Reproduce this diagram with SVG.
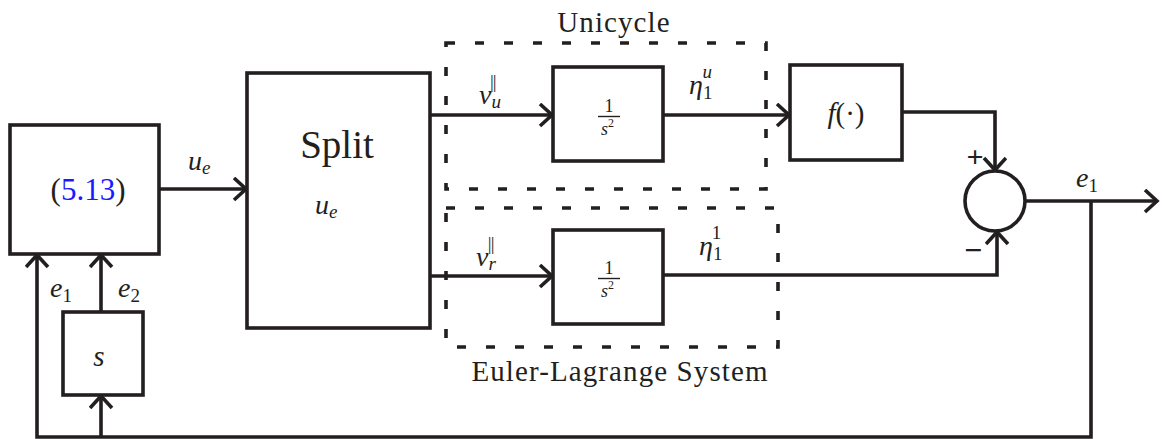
<svg xmlns="http://www.w3.org/2000/svg" width="1162" height="439" viewBox="0 0 1162 439" font-family="'Liberation Serif', 'DejaVu Serif', serif">
  <style>
    .blk { fill: #fff; stroke: #231f20; stroke-width: 3.6; }
    .ln { fill: none; stroke: #231f20; stroke-width: 3.6; }
    .dash { fill: none; stroke: #231f20; stroke-width: 3.6; stroke-dasharray: 9 20; }
    text { fill: #231f20; }
    .it { font-style: italic; }
    .si { font-size: 19px; font-style: italic; }
    .sn { font-size: 19px; font-style: normal; }
    .cap { font-size: 29px; letter-spacing: 1.1px; }
    .bar { stroke: #231f20; stroke-width: 1.4; }
    .frac { font-size: 18px; }
  </style>
  <defs>
    <marker id="head" markerUnits="userSpaceOnUse" markerWidth="30" markerHeight="30" refX="14" refY="12" orient="auto">
      <path d="M2,1 L14,12 L2,23" fill="none" stroke="#231f20" stroke-width="3.6"/>
    </marker>
  </defs>

  <!-- subsystem frames -->
  <g id="unicycle-frame">
    <rect class="dash" x="446" y="43" width="320" height="146"/>
    <text class="cap" x="614" y="32" text-anchor="middle">Unicycle</text>
  </g>
  <g id="el-frame">
    <rect class="dash" x="446" y="208" width="332" height="139"/>
    <text class="cap" x="620" y="381" font-size="30" text-anchor="middle">Euler-Lagrange System</text>
  </g>

  <!-- connectors -->
  <g id="connectors">
    <path class="ln" d="M159,189 H246" marker-end="url(#head)"/>
    <path class="ln" d="M430,115 H552" marker-end="url(#head)"/>
    <path class="ln" d="M663,115 H789" marker-end="url(#head)"/>
    <path class="ln" d="M430,276 H552" marker-end="url(#head)"/>
    <path class="ln" d="M902,112 H995 V170" marker-end="url(#head)"/>
    <path class="ln" d="M663,275 H997 V232" marker-end="url(#head)"/>
    <path class="ln" d="M1025,201 H1157" marker-end="url(#head)"/>
    <path class="ln" d="M1091,201 V437 H37 V255" marker-end="url(#head)"/>
    <path class="ln" d="M101,437 V396" marker-end="url(#head)"/>
    <path class="ln" d="M101,312 V255" marker-end="url(#head)"/>
  </g>

  <!-- connector labels -->
  <g id="labels">
    <text class="it" x="188" y="170" font-size="28">u<tspan class="si" dy="4">e</tspan></text>
    <text class="it" x="479" y="104" font-size="28">v<tspan class="si" dy="4">u</tspan><tspan class="sn" dx="-11" dy="-20" letter-spacing="-1">||</tspan></text>
    <text class="it" x="476" y="266" font-size="28">v<tspan class="si" dy="4">r</tspan><tspan class="sn" dx="-8" dy="-20" letter-spacing="-1">||</tspan></text>
    <text class="it" x="689" y="94" font-size="28">η<tspan class="sn" dy="5">1</tspan><tspan class="si" dx="-10" dy="-21">u</tspan></text>
    <text class="it" x="699" y="255" font-size="28">η<tspan class="sn" dy="5">1</tspan><tspan class="sn" dx="-10" dy="-21">1</tspan></text>
    <text class="it" x="1076" y="187" font-size="28">e<tspan class="sn" dy="5">1</tspan></text>
    <text class="it" x="50" y="297" font-size="28">e<tspan class="sn" dy="5">1</tspan></text>
    <text class="it" x="118" y="297" font-size="28">e<tspan class="sn" dy="5">2</tspan></text>
    <text x="975" y="167" font-size="30" font-weight="bold" text-anchor="middle">+</text>
    <text x="973" y="261" font-size="32" font-weight="bold" text-anchor="middle">−</text>
  </g>

  <!-- blocks -->
  <g id="controller">
    <rect class="blk" x="10" y="125" width="149" height="129"/>
    <text x="88" y="200" font-size="31" text-anchor="middle">(<tspan fill="#1a1aff">5.13</tspan>)</text>
  </g>
  <g id="differentiator">
    <rect class="blk" x="63" y="312" width="80" height="83"/>
    <text class="it" x="99" y="366" font-size="29" text-anchor="middle">s</text>
  </g>
  <g id="split">
    <rect class="blk" x="247" y="73" width="183" height="255"/>
    <text x="337" y="158" font-size="39" text-anchor="middle">Split</text>
    <text class="it" x="315" y="214" font-size="28">u<tspan class="si" dy="4">e</tspan></text>
  </g>
  <!-- 1/s^2 blocks -->
  <g id="integrator-u">
    <rect class="blk" x="553" y="67" width="110" height="94"/>
    <text class="frac" x="609" y="112" text-anchor="middle">1</text>
    <line class="bar" x1="598" y1="116.5" x2="620" y2="116.5"/>
    <text class="frac" x="601" y="135"><tspan font-style="italic">s</tspan><tspan font-size="12" dy="-8">2</tspan></text>
  </g>
  <g id="integrator-r">
    <rect class="blk" x="553" y="230" width="110" height="94"/>
    <text class="frac" x="609" y="274" text-anchor="middle">1</text>
    <line class="bar" x1="598" y1="278.5" x2="620" y2="278.5"/>
    <text class="frac" x="601" y="297"><tspan font-style="italic">s</tspan><tspan font-size="12" dy="-8">2</tspan></text>
  </g>
  <g id="map-f">
    <rect class="blk" x="790" y="65" width="112" height="95"/>
    <text class="it" x="846" y="123" font-size="29" text-anchor="middle">f<tspan font-style="normal">(·)</tspan></text>
  </g>
  <g id="sum">
    <circle class="blk" cx="995" cy="201" r="30"/>
  </g>
</svg>
